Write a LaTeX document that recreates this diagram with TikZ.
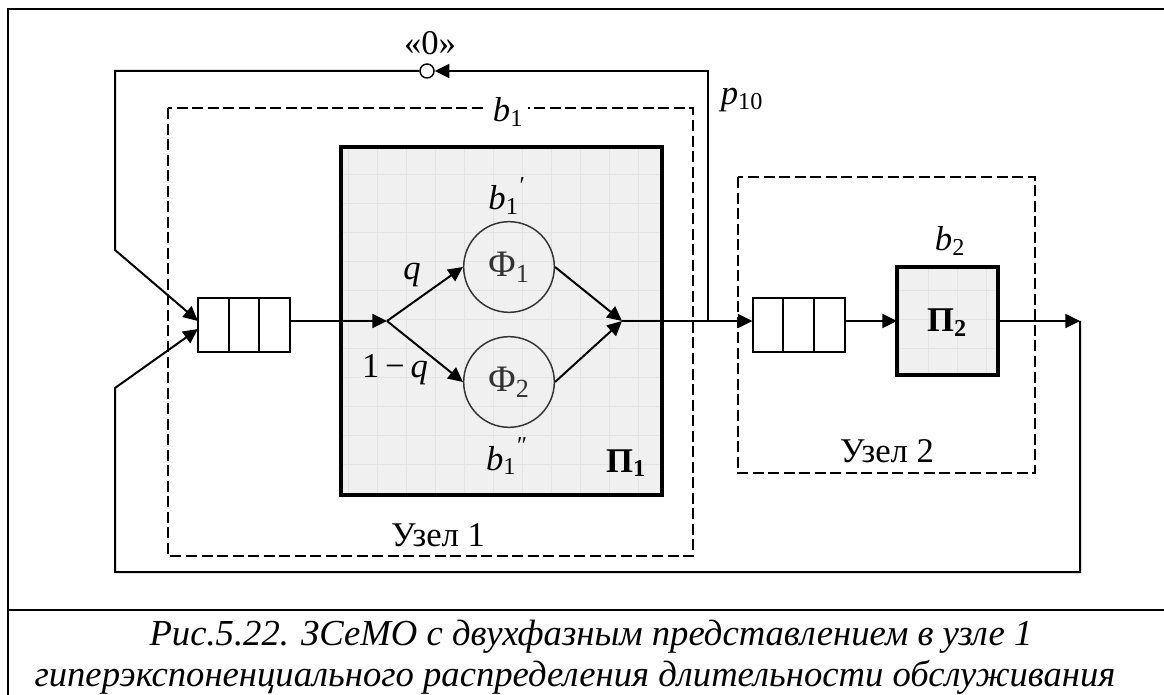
\documentclass[tikz,border=0pt]{standalone}
\usepackage{fontspec}
\setmainfont{Liberation Serif}
\usetikzlibrary{arrows.meta}

\newcommand{\bsh}[2]{\textit{b}\textsubscript{#1}\hspace{0.03em}\raisebox{0.12em}{\textsuperscript{#2}}}

\begin{document}
\begin{tikzpicture}[
  x=0.75pt, y=-0.75pt,
  font=\fontsize{26}{30}\selectfont,
  linia/.style={draw=black, line width=1.5pt},
  strelka/.style={linia, -{Triangle[length=11pt, width=10.5pt]}},
  granica/.style={draw=black, line width=1.1pt, dash pattern=on 8.25pt off 3.4pt},
  pribor/.style={fill=black!6, inner sep=0pt, outer sep=0pt},
  kontur/.style={draw=black, line width=2.4pt},
  setka/.style={draw=black!11, line width=0.4pt},
  faza/.style={circle, draw=black!80, line width=1.1pt, minimum size=68pt, inner sep=0pt, text=black!80, font=\fontsize{28}{32}\selectfont},
  ochered/.style={draw=black, line width=1.5pt, minimum width=69pt, minimum height=40.5pt, inner sep=0pt, outer sep=0pt},
  metka/.style={inner sep=1pt},
  ramka/.style={draw=black, line width=1.5pt},
  podpis/.style={inner sep=0pt, font=\fontsize{27.5}{32}\selectfont\itshape}
]
\useasboundingbox (0,0) rectangle (1164,695);

%--------------------------------------------------------------
% Рамка и подпись
%--------------------------------------------------------------
\draw[ramka] (8,695) -- (8,9.5) -- (1164,9.5);
\draw[ramka] (8,610) -- (1164,610);
\node[podpis, anchor=base] (podpis1) at (591,645) {Рис.5.22. ЗСеМО с двухфазным представлением в узле 1};
\node[podpis, anchor=base] (podpis2) at (575,686) {гиперэкспоненциального распределения длительности обслуживания};

%--------------------------------------------------------------
% Узел 1: очередь и двухфазный прибор П1
%--------------------------------------------------------------
\draw[granica] (168,108) rectangle (693,556);
\node[metka, fill=white, inner xsep=4pt, anchor=base] (b1) at (508,122) {\textit{b}\textsubscript{1}};
\node[metka, anchor=base] (uzel1) at (438,546) {Узел 1};
% очередь
\node[ochered] (queue1) at (244,325) {};
\draw[linia] ([xshift=-11.5pt]queue1.north) -- ([xshift=-11.5pt]queue1.south);
\draw[linia] ([xshift=11.5pt]queue1.north) -- ([xshift=11.5pt]queue1.south);
% прибор
\node[pribor, minimum width=240.75pt, minimum height=261pt] (pi1) at (501.5,321) {};
\draw[setka, step=21.75pt] (pi1.south west) grid (pi1.north east);
\draw[kontur] (pi1.south west) rectangle (pi1.north east);
\node[metka, anchor=base] (pi1lab) at (626,472) {\textbf{П\textsubscript{1}}};
% фазы
\node[faza] (phi1) at (509,267) {Φ\textsubscript{1}};
\node[faza] (phi2) at (509,382) {Φ\textsubscript{2}};
\node[metka, anchor=base] (b1a) at (507,210) {\bsh{1}{′}};
\node[metka, anchor=base] (b1b) at (507,470) {\bsh{1}{″}};
\coordinate (split) at (387,321);
\coordinate (merge) at (622,321);
\draw[strelka] (queue1.east |- split) -- (split);
\draw[strelka] (split) -- (phi1.west);
\draw[strelka] (split) -- (phi2.west);
\draw[strelka] (phi1.east) -- (merge);
\draw[strelka] (phi2.east) -- (merge);
\node[metka, anchor=base] (q) at (412,280) {\textit{q}};
\node[metka, anchor=base] (q1) at (395,378) {1\,−\,\textit{q}};

%--------------------------------------------------------------
% Узел 2: очередь и прибор П2
%--------------------------------------------------------------
\draw[granica] (738,177) rectangle (1035,473);
\node[metka, anchor=base] (uzel2) at (887,462) {Узел 2};
\node[ochered] (queue2) at (798.5,325) {};
\draw[linia] ([xshift=-11.5pt]queue2.north) -- ([xshift=-11.5pt]queue2.south);
\draw[linia] ([xshift=11.5pt]queue2.north) -- ([xshift=11.5pt]queue2.south);
\node[pribor, minimum width=75.75pt, minimum height=81pt] (pi2) at (947.5,321) {};
\draw[setka, step=21.75pt] (pi2.south west) grid (pi2.north east);
\draw[kontur] (pi2.south west) rectangle (pi2.north east);
\node[metka, anchor=base] (pi2lab) at (947,332) {\textbf{П\textsubscript{2}}};
\node[metka, anchor=base] (b2) at (950,251) {\textit{b}\textsubscript{2}};

%--------------------------------------------------------------
% Связи между узлами и обратные ветви
%--------------------------------------------------------------
\coordinate (otvod) at (708,321);
\coordinate (vyhod) at (1080,321);
\coordinate (dno) at (1080,572);
\coordinate (verh) at (115,250);
\coordinate (niz) at (115,388);
\node[circle, draw=black, line width=1.1pt, fill=white, minimum size=10.5pt, inner sep=0pt] (zero) at (427,71) {};
\node[metka, anchor=base] (nol) at (430,55) {«0»};
\node[metka, anchor=base] (p10) at (742,105) {\textit{p}\textsubscript{10}};
\draw[strelka] (merge) -- (merge -| queue2.west);
\draw[strelka] (queue2.east |- vyhod) -- (pi2.west);
\draw[strelka] (pi2.east) -- (vyhod);
\draw[strelka] (otvod) |- (zero.east);
\draw[strelka] (zero.west) -| (verh) -- ([yshift=3pt]queue1.west);
\draw[strelka] (vyhod) -- (dno) -| (niz) -- ([yshift=-3pt]queue1.west);

\end{tikzpicture}
\end{document}
